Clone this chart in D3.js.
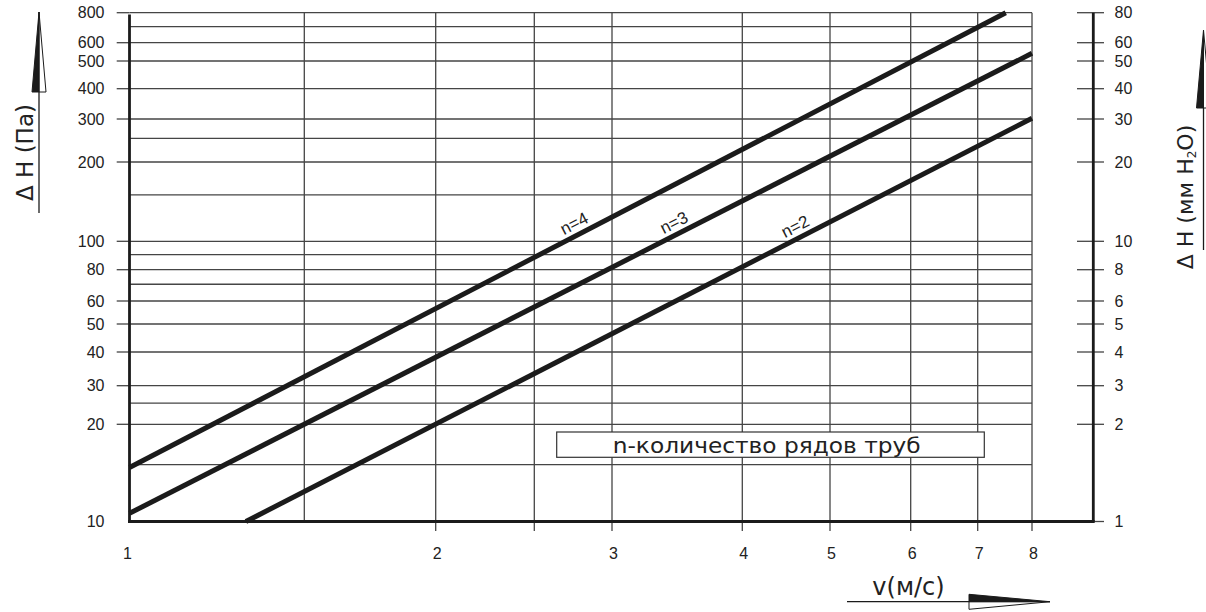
<!DOCTYPE html>
<html>
<head>
<meta charset="utf-8">
<script src="https://cdn.jsdelivr.net/npm/d3@7"></script>
<style>
  body { margin: 0; background: #fff; }
  svg { display: block; }
</style>
</head>
<body>
<div id="chart"></div>
<script>
// Chart values
var vTicks = [1, 2, 3, 4, 5, 6, 7, 8];
var vGrid = [1.5, 2, 2.5, 3, 4, 5, 6, 7, 8];
var paTicks = [10, 20, 30, 40, 50, 60, 80, 100, 200, 300, 400, 500, 600, 800];
var paGrid = [15, 20, 25, 30, 40, 50, 60, 70, 80, 90, 100, 150, 200, 250, 300, 400, 500, 600, 700, 800];
var mmTicks = [1, 2, 3, 4, 5, 6, 8, 10, 20, 30, 40, 50, 60, 80];

// One straight line per number of tube rows
var seriesNames = ["n=4", "n=3", "n=2"];
var vStart = [1, 1, 1.31];
var vEnd = [7.5, 8, 8];
var paStart = [14.7, 10.6, 10];
var paEnd = [800, 540, 302];
var labelV = [2.78, 3.48, 4.64];

var legendText = "n-количество рядов труб";

// The printed grid is not a perfect log grid, so the scales are calibrated
// piecewise on the grid lines
var xCal = [129.5, 304.3, 435.7, 534.3, 612, 742.3, 830, 910.7, 977.7, 1032];
var yCal = [521.5, 424.3, 385.7, 352, 324, 301, 269.7, 241.3, 162, 119, 88.7, 61, 42.7, 12.7];

var x = d3.scaleLog().domain([1].concat(vGrid)).range(xCal);
var y = d3.scaleLog().domain(paTicks).range(yCal);
var yMm = y.copy().domain(paTicks.map(d => d / 10));

var svg = d3.select("#chart")
  .append("svg")
  .attr("width", 1206)
  .attr("height", 612);

var gridColor = "#454545";
var ink = "#1b1b1b";
var tickFont = "Liberation Sans, Arial, sans-serif";

// Horizontal grid
svg.append("g").selectAll("line")
  .data(paGrid)
  .enter().append("line")
  .attr("x1", x(1)).attr("x2", x(8))
  .attr("y1", d => y(d)).attr("y2", d => y(d))
  .attr("stroke", gridColor)
  .attr("stroke-width", 1.3);

// Vertical grid (ticks poke below the axis from 2 on)
svg.append("g").selectAll("line")
  .data(vGrid)
  .enter().append("line")
  .attr("x1", d => x(d)).attr("x2", d => x(d))
  .attr("y1", y(800))
  .attr("y2", d => d >= 2 ? y(10) + 9.5 : y(10))
  .attr("stroke", gridColor)
  .attr("stroke-width", 1.3);

// Left ticks + labels
var left = svg.append("g");
left.selectAll("line")
  .data(paTicks.filter(d => d > 10))
  .enter().append("line")
  .attr("x1", 116.7).attr("x2", x(1))
  .attr("y1", d => y(d)).attr("y2", d => y(d))
  .attr("stroke", gridColor)
  .attr("stroke-width", 1.3);
left.selectAll("text")
  .data(paTicks)
  .enter().append("text")
  .attr("x", 104.5)
  .attr("y", d => y(d))
  .attr("dy", "0.36em")
  .attr("text-anchor", "end")
  .attr("font-family", tickFont)
  .attr("font-size", 16)
  .attr("fill", "#222")
  .text(d => d);

// Right axis (mm H2O)
var xr = 1093.3;
var right = svg.append("g");
right.selectAll("line")
  .data(mmTicks)
  .enter().append("line")
  .attr("x1", 1077).attr("x2", 1104)
  .attr("y1", d => yMm(d)).attr("y2", d => yMm(d))
  .attr("stroke", gridColor)
  .attr("stroke-width", 1.3);
right.selectAll("text")
  .data(mmTicks)
  .enter().append("text")
  .attr("x", 1114.5)
  .attr("y", d => yMm(d))
  .attr("dy", "0.36em")
  .attr("font-family", tickFont)
  .attr("font-size", 16)
  .attr("fill", "#222")
  .text(d => d);

// Bottom labels
svg.append("g").selectAll("text")
  .data(vTicks)
  .enter().append("text")
  .attr("x", d => x(d) + (d === 1 ? -2 : 1.5))
  .attr("y", 558.5)
  .attr("text-anchor", "middle")
  .attr("font-family", tickFont)
  .attr("font-size", 16)
  .attr("fill", "#222")
  .text(d => d);

// Axis frame lines
svg.append("line")
  .attr("x1", x(1)).attr("x2", x(1))
  .attr("y1", 14.5).attr("y2", y(10) + 1.4)
  .attr("stroke", ink).attr("stroke-width", 2.8);
svg.append("line")
  .attr("x1", x(1) - 1.4).attr("x2", xr + 1.4)
  .attr("y1", y(10)).attr("y2", y(10))
  .attr("stroke", ink).attr("stroke-width", 2.8);
svg.append("line")
  .attr("x1", xr).attr("x2", xr)
  .attr("y1", y(800)).attr("y2", y(10))
  .attr("stroke", ink).attr("stroke-width", 2.8);

// Legend box
svg.append("rect")
  .attr("x", 556.7).attr("y", 432)
  .attr("width", 427.6).attr("height", 25.3)
  .attr("fill", "#fff")
  .attr("stroke", "#333")
  .attr("stroke-width", 1.2);
svg.append("text")
  .attr("x", 612.7).attr("y", 452.5)
  .attr("font-family", "DejaVu Sans, sans-serif")
  .attr("font-size", 21)
  .attr("textLength", 308)
  .attr("lengthAdjust", "spacingAndGlyphs")
  .attr("fill", "#222")
  .text(legendText);

// Curves
var rows = seriesNames.map((name, i) => ({
  name: name,
  p0: [x(vStart[i]), y(paStart[i])],
  p1: [x(vEnd[i]), y(paEnd[i])],
  lv: labelV[i]
}));

svg.append("g").selectAll("line")
  .data(rows)
  .enter().append("line")
  .attr("x1", d => d.p0[0]).attr("y1", d => d.p0[1])
  .attr("x2", d => d.p1[0]).attr("y2", d => d.p1[1])
  .attr("stroke", ink)
  .attr("stroke-width", 5);

svg.append("g").selectAll("text")
  .data(rows)
  .enter().append("text")
  .attr("transform", d => {
    var lx = x(d.lv);
    var t = (lx - d.p0[0]) / (d.p1[0] - d.p0[0]);
    var ly = d.p0[1] + t * (d.p1[1] - d.p0[1]);
    var ang = Math.atan2(d.p1[1] - d.p0[1], d.p1[0] - d.p0[0]) * 180 / Math.PI;
    return "translate(" + lx + "," + ly + ") rotate(" + ang + ")";
  })
  .attr("dy", -6)
  .attr("text-anchor", "middle")
  .attr("font-family", tickFont)
  .attr("font-size", 17)
  .attr("fill", "#222")
  .text(d => d.name);

// Axis titles with half-filled arrows
function arrowUp(g, cx, tipY, baseY, tailY) {
  g.append("line")
    .attr("x1", cx).attr("x2", cx)
    .attr("y1", tailY).attr("y2", baseY)
    .attr("stroke", ink).attr("stroke-width", 1.3);
  g.append("path")
    .attr("d", "M" + cx + "," + tipY + "L" + (cx + 7) + "," + baseY + "L" + cx + "," + baseY + "Z")
    .attr("fill", "#fff").attr("stroke", ink).attr("stroke-width", 1);
  g.append("path")
    .attr("d", "M" + cx + "," + tipY + "L" + (cx - 7) + "," + baseY + "L" + cx + "," + baseY + "Z")
    .attr("fill", ink).attr("stroke", ink).attr("stroke-width", 1);
}

arrowUp(svg.append("g"), 39, 12, 92, 213);
arrowUp(svg.append("g"), 1203.5, 30, 108, 250);

// bottom arrow
var ba = svg.append("g");
ba.append("line")
  .attr("x1", 847).attr("x2", 969)
  .attr("y1", 601.7).attr("y2", 601.7)
  .attr("stroke", ink).attr("stroke-width", 1.3);
ba.append("path")
  .attr("d", "M1050,601.7L969,609.3L969,601.7Z")
  .attr("fill", "#fff").attr("stroke", ink).attr("stroke-width", 1);
ba.append("path")
  .attr("d", "M1050,601.7L969,594.3L969,601.7Z")
  .attr("fill", ink).attr("stroke", ink).attr("stroke-width", 1);

svg.append("text")
  .attr("transform", "translate(32.5,152.5) rotate(-90)")
  .attr("text-anchor", "middle")
  .attr("font-family", "DejaVu Sans, sans-serif")
  .attr("font-size", 23)
  .attr("fill", "#222")
  .text("Δ H (Па)");

var rt = svg.append("text")
  .attr("transform", "translate(1193,197) rotate(-90)")
  .attr("text-anchor", "middle")
  .attr("font-family", "DejaVu Sans, sans-serif")
  .attr("font-size", 22)
  .attr("fill", "#222");
rt.append("tspan").text("Δ H (мм H");
rt.append("tspan").attr("font-size", 12).attr("dy", 3).text("2");
rt.append("tspan").attr("dy", -3).text("O)");

svg.append("text")
  .attr("x", 908.5).attr("y", 595)
  .attr("text-anchor", "middle")
  .attr("font-family", "DejaVu Sans, sans-serif")
  .attr("font-size", 24)
  .attr("fill", "#222")
  .text("v(м/с)");
</script>
</body>
</html>
